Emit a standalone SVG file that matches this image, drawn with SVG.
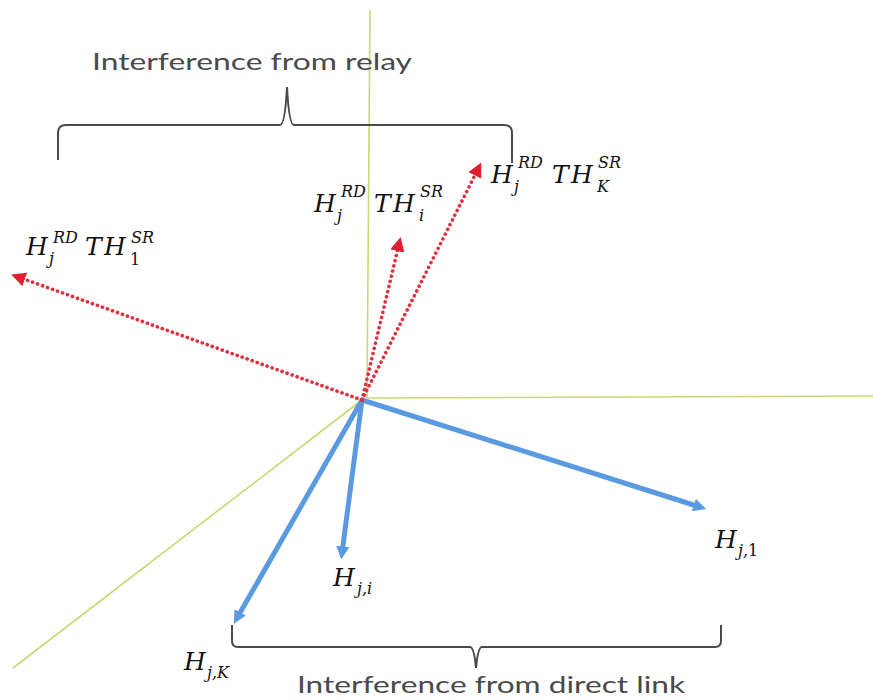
<svg xmlns="http://www.w3.org/2000/svg" width="873" height="700" viewBox="0 0 873 700">
<style>
.axis{stroke:#c9d870;stroke-width:1.6;fill:none}
.blue{stroke:#5b9ae0;stroke-width:5;fill:none;stroke-linecap:round}
.red{stroke:#e03040;stroke-width:3.6;fill:none;stroke-dasharray:0.1 5.2;stroke-linecap:round}
.brace{stroke:#4a4a4a;stroke-width:2;fill:none}
.cap{font-family:"Lato","Liberation Sans",sans-serif;font-size:24px;fill:#4a4a4a}
.m{font-family:"DejaVu Serif","Liberation Serif",serif;font-style:italic;font-size:25px;fill:#111}
.s{font-size:16px}
.n{font-style:normal}
</style>
<defs>
<marker id="bh" markerWidth="2.6" markerHeight="2.6" refX="1.3" refY="1.3" orient="auto" markerUnits="strokeWidth">
<path d="M0,0 L2.6,1.3 L0,2.6 Z" fill="#5b9ae0"/>
</marker>
<marker id="rh" markerWidth="4" markerHeight="4" refX="2" refY="2" orient="auto" markerUnits="strokeWidth">
<path d="M0,0 L4,2 L0,4 Z" fill="#e0202f"/>
</marker>
</defs>
<g id="axes">
<line class="axis" x1="370" y1="10" x2="367" y2="398"/>
<line class="axis" x1="367" y1="398" x2="873" y2="396"/>
<line class="axis" x1="362" y1="400" x2="13" y2="668"/>
</g>
<g id="connectors">
<line class="blue" x1="362" y1="400" x2="700" y2="507" marker-end="url(#bh)"/>
<line class="blue" x1="362" y1="400" x2="342" y2="553" marker-end="url(#bh)"/>
<line class="blue" x1="362" y1="400" x2="237" y2="618" marker-end="url(#bh)"/>
<line class="red" x1="362" y1="400" x2="18" y2="277" marker-end="url(#rh)"/>
<line class="red" x1="362" y1="400" x2="399" y2="244" marker-end="url(#rh)"/>
<line class="red" x1="362" y1="400" x2="478" y2="169" marker-end="url(#rh)"/>
</g>
<g id="brace-relay">
<path class="brace" d="M58,160 L58,133 Q58,125 66,125 L280,125 Q285,125 287,87 Q289,125 294,125 L504,125 Q512,125 512,133 L512,163"/>
<text class="cap" x="92" y="70" textLength="320" lengthAdjust="spacingAndGlyphs">Interference from relay</text>
</g>
<g id="brace-direct">
<path class="brace" d="M232,625 L232,641 Q232,647 238,647 L470,647 Q474,647 476,668 Q478,647 482,647 L715,647 Q721,647 721,641 L721,625"/>
<text class="cap" x="297" y="693" textLength="388" lengthAdjust="spacingAndGlyphs">Interference from direct link</text>
</g>
<g id="label-H1">
<text class="m"><tspan x="26" y="255">H</tspan><tspan class="s" x="53" y="243">RD</tspan><tspan class="s" x="49" y="264">j</tspan><tspan x="85" y="255">T</tspan><tspan x="104" y="255">H</tspan><tspan class="s" x="131" y="243">SR</tspan><tspan class="s n" x="130" y="265">1</tspan></text>
</g>
<g id="label-Hi">
<text class="m"><tspan x="314" y="212">H</tspan><tspan class="s" x="341" y="197">RD</tspan><tspan class="s" x="337" y="221">j</tspan><tspan x="374" y="212">T</tspan><tspan x="393" y="212">H</tspan><tspan class="s" x="420" y="197">SR</tspan><tspan class="s" x="419" y="221">i</tspan></text>
</g>
<g id="label-HK">
<text class="m"><tspan x="491" y="183">H</tspan><tspan class="s" x="518" y="168">RD</tspan><tspan class="s" x="514" y="192">j</tspan><tspan x="552" y="183">T</tspan><tspan x="571" y="183">H</tspan><tspan class="s" x="598" y="168">SR</tspan><tspan class="s" x="597" y="192">K</tspan></text>
</g>
<g id="label-Hj1">
<text class="m"><tspan x="715" y="548">H</tspan><tspan class="s" x="738" y="556">j,<tspan class="n">1</tspan></tspan></text>
</g>
<g id="label-Hji">
<text class="m"><tspan x="333" y="586">H</tspan><tspan class="s" x="357" y="594">j,i</tspan></text>
</g>
<g id="label-HjK">
<text class="m"><tspan x="184" y="670">H</tspan><tspan class="s" x="207" y="678">j,K</tspan></text>
</g>
</svg>
